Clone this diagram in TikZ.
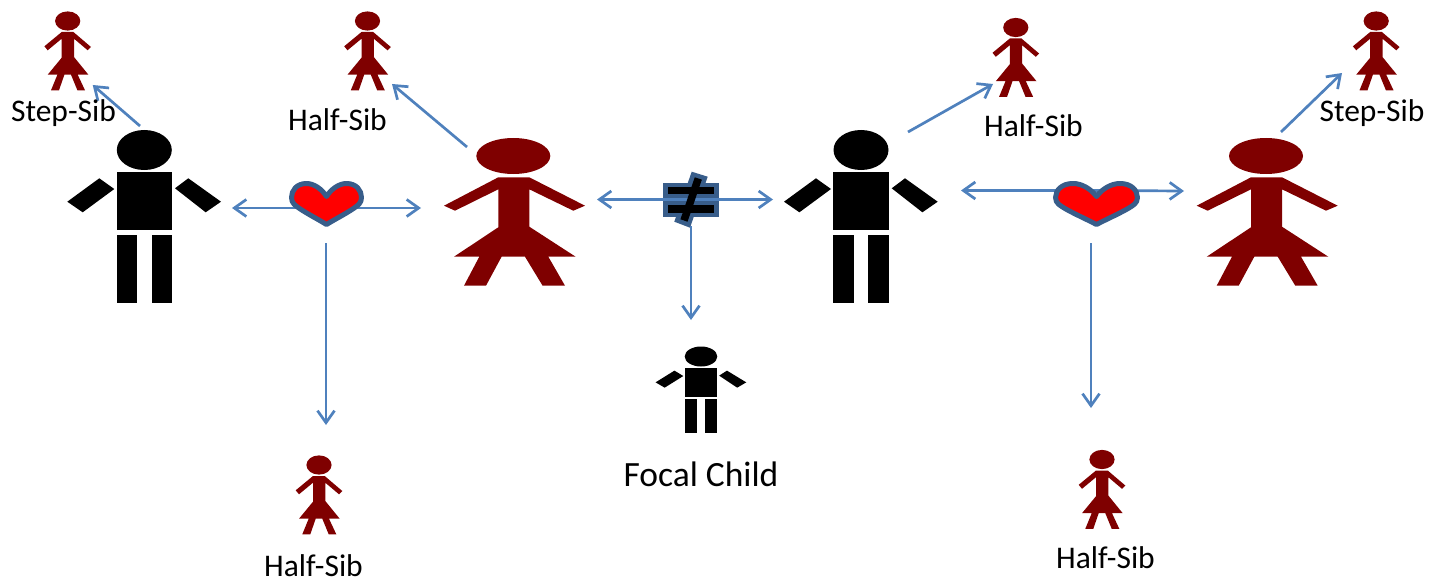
\documentclass[tikz,border=0pt]{standalone}
\usepackage{fontspec}
\setmainfont{Carlito}
\usetikzlibrary{arrows.meta}
\definecolor{arrowblue}{HTML}{4F81BD}
\definecolor{edgeblue}{HTML}{385D8A}
\definecolor{maroon}{HTML}{7F0000}
\tikzset{
  conn/.style={draw=arrowblue,line width=2.7pt,-{Straight Barb[length=12pt,width=17pt,line width=2.7pt]}},
  lbl/.style={inner sep=0pt,font=\fontsize{31.5}{32}\selectfont,text=black}
}
% #1 x, #2 y (head centre), #3 xscale, #4 yscale, #5 head rx, #6 head ry
\newcommand{\boyfig}[6]{%
  \begin{scope}[shift={(#1,#2)},xscale=#3,yscale=#4]
    \fill[black] (-27.6,22) rectangle (27.6,80);
    \fill[black] (-27.6,85) rectangle (-7.3,153);
    \fill[black] (7.3,85) rectangle (27.6,153);
    \fill[black] (-77,51.7) -- (-45,28.3) -- (-30,39) -- (-61.6,62.3) -- cycle;
    \fill[black] (30.7,38.3) -- (44,28.3) -- (76.7,51.7) -- (61.4,62.3) -- cycle;
  \end{scope}
  \fill[black] (#1,#2) ellipse [x radius=#5,y radius=#6];
}
\newcommand{\biggirl}[2]{%
  \begin{scope}[shift={(#1,#2)}]
    \fill[maroon] (-15,21.3) -- (16,21.3) -- (71.7,49.7) -- (60,54.7) -- (16,33.3) -- (16,70.7)
      -- (62.3,100.7) -- (35,100.7) -- (51.7,129.7) -- (29.3,129.7) -- (11.7,100.7)
      -- (-11.7,100.7) -- (-27.3,129.7) -- (-49.3,129.7) -- (-34,100.7) -- (-59.3,100.7)
      -- (-15,71.3) -- (-15,33.3) -- (-58.3,54.7) -- (-69.3,49.7) -- cycle;
    \fill[maroon] (0,0) ellipse [x radius=37,y radius=18];
  \end{scope}
}
\newcommand{\smallgirl}[2]{%
  \begin{scope}[shift={(#1,#2)}]
    \fill[maroon] (-6,11) -- (5.7,11) -- (23.3,26) -- (20,29.3) -- (6.3,17.7) -- (6.3,36)
      -- (20.7,53.7) -- (10,53.7) -- (17.3,69.3) -- (9.7,69.3) -- (3.3,53.7)
      -- (-3.3,53.7) -- (-8.7,69.3) -- (-16.7,69.3) -- (-10.3,53.7) -- (-20,53.7)
      -- (-6,36.7) -- (-6,17.7) -- (-20,29.3) -- (-23.3,25.3) -- cycle;
    \fill[maroon] (0,0) ellipse [x radius=12.6,y radius=9.6];
  \end{scope}
}
% #1 x, #2 y, #3 xscale
\newcommand{\heartfig}[3]{%
  \begin{scope}[shift={(#1,#2)},xscale=#3]
    \path[draw=edgeblue,fill=red,line width=5pt,line join=round]
      (0,-9) .. controls (-5,-17) and (-13,-22) .. (-20,-22)
      .. controls (-30,-22) and (-35,-15) .. (-35,-8)
      .. controls (-35,-2) and (-31,0) .. (-27,3)
      .. controls (-18,9) and (-8,14) .. (0,19)
      .. controls (8,14) and (18,9) .. (27,3)
      .. controls (31,0) and (35,-2) .. (35,-8)
      .. controls (35,-15) and (30,-22) .. (20,-22)
      .. controls (13,-22) and (5,-17) .. (0,-9) -- cycle;
  \end{scope}
}
\begin{document}
\begin{tikzpicture}[x=1pt,y=-1pt]
\useasboundingbox (0,0) rectangle (1435,583);
% named anchors
\coordinate (manA) at (140,126);
\coordinate (girlA) at (467,147);
\coordinate (manB) at (908,132);
\coordinate (girlB) at (1281,132);
\coordinate (heartL) at (326.5,208);
\coordinate (heartLbottom) at (326,243);
\coordinate (heartR) at (1097,190.5);
\coordinate (heartRbottom) at (1091,243);
\coordinate (neqC) at (691,199.5);
\coordinate (neqBottom) at (691,226);
\coordinate (sibA) at (92.7,85);
\coordinate (sibB) at (392,84);
\coordinate (sibC) at (993,84);
\coordinate (sibD) at (1342,73);
\coordinate (sibE) at (326,425);
\coordinate (sibF) at (1091,408);
\coordinate (child) at (691,320);
\coordinate (manAarm) at (232,208);
\coordinate (girlAarmL) at (421,208);
\coordinate (girlAarmR) at (597,199.5);
\coordinate (manBarmL) at (773,199.5);
\coordinate (manBarmR) at (961,190.5);
\coordinate (girlBarm) at (1184,191);
% figures
\boyfig{144.3}{150}{1}{1}{27.5}{20}
\boyfig{861}{150}{1}{1}{27.5}{20}
\boyfig{701}{356.5}{0.59}{0.5}{16.3}{10}
\biggirl{513.3}{156}
\biggirl{1266}{156}
\smallgirl{67.7}{21}
\smallgirl{367.5}{21}
\smallgirl{1015.8}{27.5}
\smallgirl{1376.2}{21}
\smallgirl{319}{465}
\smallgirl{1102}{459.5}
% not-equal box (underneath connector)
\fill[edgeblue] (662.7,182.7) rectangle (719.3,217.3);
\fill[edgeblue] (691.7,171.7) -- (707.7,176.7) -- (690,227.7) -- (674.3,221.7) -- cycle;
\fill[black] (667.7,186.7) rectangle (714.3,194.3);
\fill[black] (667.7,205) rectangle (714.3,212.7);
% connectors
\draw[conn] (manA) -- (sibA);
\draw[conn] (girlA) -- (sibB);
\draw[conn] (manB) -- (sibC);
\draw[conn] (girlB) -- (sibD);
\draw[conn] (heartL) -- (manAarm);
\draw[conn] (heartL) -- (girlAarmL);
\draw[conn] (heartLbottom) -- (sibE);
\draw[conn] (neqC) -- (girlAarmR);
\draw[conn] (neqC) -- (manBarmL);
\draw[conn] (neqBottom) -- (child);
\draw[conn] (heartR) -- (manBarmR);
\draw[conn] (heartR) -- (girlBarm);
\draw[conn] (heartRbottom) -- (sibF);
% slash on top of the connector
\draw[black,line width=7.5pt] (698.3,178.5) -- (684,220.5);
% hearts on top
\heartfig{326.5}{205.5}{1}
\heartfig{1096.5}{205.5}{1.17}
% labels
\node[lbl] (lA) at (63.5,113) {Step-Sib};
\node[lbl] (lB) at (337.5,120) {Half-Sib};
\node[lbl] (lC) at (1033.5,126) {Half-Sib};
\node[lbl] (lD) at (1372,113) {Step-Sib};
\node[lbl] (lE) at (313.5,566) {Half-Sib};
\node[lbl] (lF) at (1105.5,558) {Half-Sib};
\node[lbl,font=\fontsize{35.5}{36}\selectfont] (lG) at (701,474) {Focal Child};
\end{tikzpicture}
\end{document}
